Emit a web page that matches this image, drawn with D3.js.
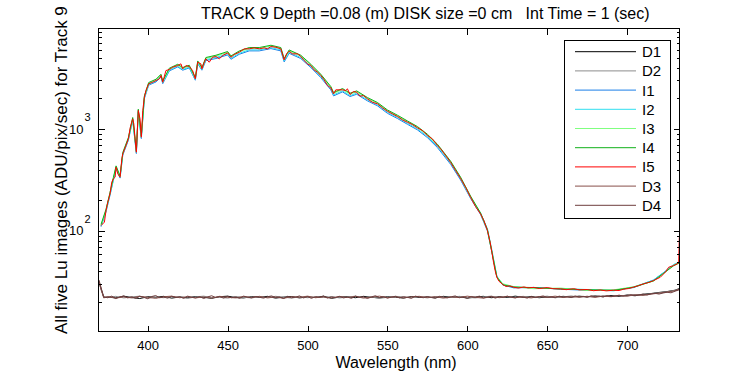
<!DOCTYPE html>
<html>
<head>
<meta charset="utf-8">
<script src="https://d3js.org/d3.v7.min.js"></script>
<style>
  body { margin: 0; background: #fff; }
  svg text { font-family: "Liberation Sans", Arial, sans-serif; fill: #000; }
  .axis path { display: none; }
  .axis line { stroke: #000; shape-rendering: crispEdges; }
  .trace { fill: none; stroke-width: 1; }
</style>
</head>
<body>
<svg class="chart"></svg>
<script>
// series names / colours, in legend (and drawing) order
var seriesNames = ["D1", "D2", "I1", "I2", "I3", "I4", "I5", "D3", "D4"];
var seriesColors = ["#000000", "#8c8c8c", "#1a7fe8", "#30dff0", "#80ff80", "#10b01a", "#ff0000", "#88504a", "#6e3e3e"];

var xTicks = [400, 450, 500, 550, 600, 650, 700];
var yMajorTicks = [100, 1000];

// I5 (fine wavelength grid)
var wlFine = [
  370.8, 372.9, 373.9, 375.0, 376.4, 377.5, 378.5, 379.6, 380.2, 381.3,
  382.7, 383.8, 384.4, 386.4, 387.9, 389.1, 390.6, 391.3, 392.1, 392.9,
  394.1, 395.2, 396.0, 396.9, 397.9, 398.9, 400.6, 403.1, 405.2, 407.3,
  408.3, 409.4, 411.4, 413.5, 415.6, 418.8, 420.8, 421.9, 423.9, 426.0,
  428.1, 429.8, 431.3, 433.3, 433.9, 435.4, 436.4, 438.5, 440.6, 442.7,
  444.8, 446.9, 450.0, 452.1, 454.1, 457.3, 460.4, 463.5, 466.6, 469.8,
  472.9, 475.0, 477.1, 480.2, 483.3, 485.4, 486.9, 488.5, 490.6, 493.8,
  495.8, 497.9, 500.0, 502.1, 504.1, 506.3, 508.3, 510.4, 512.5, 514.6,
  516.3, 517.7, 519.8, 521.9, 523.9, 525.0, 526.6, 528.8, 530.8, 532.9,
  535.0, 537.5, 540.6, 543.8, 546.9, 550.0, 553.1, 556.3, 559.4, 562.5,
  565.6, 568.8, 571.9, 575.0, 578.1, 581.3, 583.8, 586.4, 589.6, 592.7,
  595.8, 599.0, 602.1, 605.2, 608.3, 610.4, 612.6, 614.3, 615.4, 616.4,
  617.4, 618.5, 619.8, 622.2, 624.2, 626.5, 629.1, 632.0, 635.4, 638.0,
  641.6, 645.0, 650.0, 654.0, 658.3, 662.0, 666.6, 670.0, 675.0, 679.0,
  683.3, 687.0, 691.6, 695.0, 697.9, 701.0, 704.1, 707.0, 710.4, 713.5,
  716.6, 720.8, 723.9, 726.0, 729.1, 731.3, 732.3, 732.7
];
var lumI5 = [
  113, 122, 158, 191, 231, 301, 324, 337, 422, 363,
  337, 510, 571, 689, 801, 1042, 1259, 1125, 801, 592,
  1519, 1259, 831, 1519, 2051, 2387, 2778, 2878, 2992, 3109,
  3350, 2878, 3750, 3837, 4042, 4198, 4363, 3897, 4198, 4107,
  3750, 3109, 4524, 4363, 3897, 4524, 4887, 4524, 5066, 5147,
  4887, 5265, 5595, 5066, 5383, 5672, 6124, 6124, 6266, 6124,
  6266, 6124, 6450, 6350, 6124, 4775, 5470, 5800, 5470, 5470,
  5147, 4700, 4363, 4198, 3811, 3609, 3350, 3040, 2673, 2537,
  2215, 2425, 2425, 2425, 2387, 2480, 2181, 2334, 2297, 2099,
  2132, 1979, 1833, 1767, 1614, 1495, 1410, 1327, 1231, 1166,
  1107, 1027, 967, 864, 801, 689, 625, 550, 469, 391,
  327, 267, 213, 173, 147, 126, 101, 77.5, 61.8, 49.3,
  40.9, 35.1, 32.1, 29.8, 28.5, 28.9, 28.0, 27.5, 28.2, 27.6,
  27.9, 27.2, 27.8, 27.1, 27.0, 26.5, 27.1, 26.4, 26.6, 25.9,
  26.3, 25.8, 26.2, 26.0, 26.8, 27.2, 28.1, 29.0, 30.3, 31.2,
  32.6, 35.1, 39.3, 44.0, 45.7, 47.5, 48.9, 86.8
];

// I1..I4 (coarser grid, mostly hidden under I5)
var wlCoarse = [
  370.8, 373.9, 376.4, 378.5, 380.2, 382.7, 384.4, 387.9, 390.6, 392.9,
  394.1, 396.0, 397.9, 400.6, 405.2, 408.3, 409.4, 413.5, 418.8, 421.9,
  426.0, 429.8, 431.3, 433.9, 436.4, 442.7, 450.0, 452.1, 457.3, 463.5,
  469.8, 477.1, 483.3, 485.4, 488.5, 495.8, 502.1, 508.3, 514.6, 516.3,
  521.9, 526.6, 530.8, 537.5, 543.8, 550.0, 556.3, 562.5, 568.8, 575.0,
  581.3, 589.6, 595.8, 602.1, 608.3, 612.6, 615.4, 618.5, 622.2, 629.1,
  641.6, 658.3, 675.0, 691.6, 704.1, 716.6, 723.9, 729.1, 732.7
];
var lumI1 = [
  110, 154, 224, 314, 410, 330, 555, 778, 1222, 575,
  1475, 807, 1990, 2695, 2900, 3250, 2790, 3720, 4070, 3780,
  3980, 3015, 4390, 3780, 4700, 4920, 5340, 4840, 5420, 5850,
  5850, 6160, 5850, 4560, 5540, 4920, 4010, 3200, 2420, 2115,
  2315, 2085, 2195, 1890, 1690, 1428, 1268, 1114, 981, 825,
  658, 450, 316, 208, 145, 100, 62, 35.5, 29.5, 27.6,
  27.9, 26.8, 26.1, 26.2, 27.8, 33.0, 40.2, 46.5, 49
];
var lumI2 = [
  112, 157, 228, 320, 417, 334, 564, 790, 1240, 584,
  1500, 820, 2025, 2740, 2950, 3300, 2840, 3780, 4130, 3840,
  4045, 3060, 4450, 3840, 4800, 5040, 5470, 4950, 5540, 5990,
  5980, 6300, 5990, 4670, 5670, 5030, 4100, 3270, 2480, 2165,
  2370, 2130, 2245, 1935, 1728, 1462, 1298, 1140, 1005, 846,
  676, 462, 324, 212, 150, 105, 65, 36, 29.9, 28.3,
  27.3, 27.2, 26.6, 25.8, 28.2, 32.9, 40, 46.8, 49.5
];
var lumI3 = [
  114, 160, 234, 327, 426, 341, 577, 810, 1272, 598,
  1535, 840, 2072, 2806, 3022, 3384, 2907, 3876, 4240, 3936,
  4148, 3140, 4570, 3936, 4936, 5200, 5650, 5117, 5730, 6185,
  6185, 6515, 6185, 4823, 5858, 5198, 4240, 3384, 2562, 2237,
  2449, 2203, 2320, 1999, 1785, 1510, 1340, 1178, 1037, 873,
  696, 474, 330, 215, 148, 102, 62.5, 35.6, 30.3, 28.4,
  27.1, 27.5, 26.0, 26.4, 28.3, 32.2, 39.6, 46.0, 49
];
var lumI4 = [
  116, 163, 238, 334, 435, 347, 588, 825, 1297, 610,
  1565, 856, 2113, 2861, 3082, 3450, 2964, 3952, 4324, 4014,
  4230, 3202, 4660, 4014, 5034, 5301, 5763, 5218, 5842, 6308,
  6308, 6644, 6308, 4918, 5974, 5301, 4324, 3450, 2613, 2281,
  2498, 2246, 2366, 2038, 1820, 1540, 1367, 1201, 1058, 890,
  710, 483, 337, 219, 150, 103, 62, 35.3, 29.6, 28.1,
  27.8, 26.9, 26.5, 26.1, 28.0, 32.4, 39.5, 45.5, 48.5
];

// dark frames (D1..D3 on a 5 nm grid)
var wlDark = [
  369.5, 371, 372.5,
  375, 380, 385, 390, 395, 400, 405, 410, 415, 420,
  425, 430, 435, 440, 445, 450, 455, 460, 465, 470,
  475, 480, 485, 490, 495, 500, 505, 510, 515, 520,
  525, 530, 535, 540, 545, 550, 555, 560, 565, 570,
  575, 580, 585, 590, 595, 600, 605, 610, 615, 620,
  625, 630, 635, 640, 645, 650, 655, 660, 665, 670,
  675, 680, 685, 690, 695, 700, 705, 710, 715, 720,
  725, 730, 733
];
var darkD1 = [
  32.0, 26.5, 22.2,
  22.4, 22.0, 22.9, 22.2, 21.7, 22.6, 22.3, 22.8, 21.9, 22.5,
  22.1, 22.7, 22.3, 21.8, 22.6, 22.9, 22.2, 22.0, 22.6, 22.3,
  22.8, 21.9, 22.4, 22.7, 22.0, 22.5, 22.2, 22.9, 21.8, 22.4,
  22.6, 22.1, 22.8, 22.3, 22.0, 22.6, 22.4, 21.9, 22.7, 22.2,
  22.5, 22.0, 22.8, 22.3, 22.6, 21.9, 22.4, 22.8, 22.1, 22.6,
  22.2, 22.9, 22.3, 22.7, 22.1, 22.5, 22.3, 22.8, 22.4, 22.9,
  22.5, 23.0, 22.6, 23.2, 22.8, 23.5, 23.1, 23.9, 24.3, 24.9,
  25.4, 26.2, 27.3
];
var darkD2 = [
  31.0, 26.0, 22.6,
  22.2, 22.8, 22.0, 22.5, 22.9, 21.9, 22.4, 22.1, 22.7, 22.3,
  21.8, 22.5, 22.9, 22.2, 22.4, 21.9, 22.7, 22.3, 22.0, 22.6,
  22.2, 22.8, 22.4, 21.9, 22.6, 22.1, 22.5, 22.2, 22.7, 22.0,
  22.4, 22.9, 22.2, 22.5, 21.8, 22.3, 22.8, 22.5, 22.1, 22.6,
  22.0, 22.7, 22.4, 22.2, 22.8, 22.3, 22.0, 22.5, 22.9, 22.1,
  22.6, 22.3, 22.8, 22.2, 22.4, 22.9, 22.1, 22.5, 23.0, 22.4,
  22.8, 22.5, 23.1, 22.7, 23.3, 23.0, 23.7, 23.4, 24.2, 24.7,
  25.3, 26.1, 26.9
];
var darkD3 = [
  31.5, 26.0, 22.0,
  22.7, 21.9, 22.5, 22.0, 22.8, 22.3, 21.8, 22.6, 22.9, 22.1,
  22.6, 22.0, 22.5, 21.9, 22.8, 22.3, 22.0, 22.7, 22.2, 22.8,
  22.0, 22.5, 21.8, 22.6, 22.3, 22.9, 22.1, 22.5, 22.0, 22.7,
  22.2, 22.8, 21.9, 22.4, 22.9, 22.1, 22.6, 22.0, 22.5, 22.8,
  22.2, 22.6, 21.9, 22.5, 22.2, 22.9, 22.3, 21.9, 22.6, 22.2,
  22.8, 22.1, 22.5, 22.0, 22.7, 22.3, 22.9, 22.2, 22.6, 22.4,
  22.8, 22.3, 22.9, 22.6, 23.2, 22.9, 23.6, 23.3, 24.0, 24.5,
  25.1, 25.9, 26.8
];

// D4 on top, on a 2.5 nm grid
var wlDarkFine = [
  369.5, 371, 372.5,
  375, 377.5, 380, 382.5, 385, 387.5, 390, 392.5, 395, 397.5,
  400, 402.5, 405, 407.5, 410, 412.5, 415, 417.5, 420,
  422.5, 425, 427.5, 430, 432.5, 435, 437.5, 440, 442.5, 445,
  447.5, 450, 452.5, 455, 457.5, 460, 462.5, 465, 467.5, 470,
  472.5, 475, 477.5, 480, 482.5, 485, 487.5, 490, 492.5, 495,
  497.5, 500, 502.5, 505, 507.5, 510, 512.5, 515, 517.5, 520,
  522.5, 525, 527.5, 530, 532.5, 535, 537.5, 540, 542.5, 545,
  547.5, 550, 552.5, 555, 557.5, 560, 562.5, 565, 567.5, 570,
  572.5, 575, 577.5, 580, 582.5, 585, 587.5, 590, 592.5, 595,
  597.5, 600, 602.5, 605, 607.5, 610, 612.5, 615, 617.5, 620,
  622.5, 625, 627.5, 630, 632.5, 635, 637.5, 640, 642.5, 645,
  647.5, 650, 652.5, 655, 657.5, 660, 662.5, 665, 667.5, 670,
  672.5, 675, 677.5, 680, 682.5, 685, 687.5, 690, 692.5, 695,
  697.5, 700, 702.5, 705, 707.5, 710, 712.5, 715, 717.5, 720,
  722.5, 725, 727.5, 730, 732.5, 733
];
var darkD4 = [
  33.0, 27.0, 22.5,
  22.1, 22.9, 21.7, 22.5, 23.0, 22.0, 22.6, 21.8, 22.8, 22.3,
  21.6, 22.7, 23.2, 22.1, 22.4, 21.9, 22.8, 22.2, 22.6,
  21.8, 22.9, 22.3, 22.0, 22.7, 21.7, 22.5, 23.1, 22.2, 22.6,
  21.9, 22.8, 22.1, 22.5, 21.8, 22.9, 22.4, 22.0, 22.7, 22.3,
  21.9, 22.6, 23.0, 22.2, 22.5, 21.7, 22.8, 22.1, 22.4, 23.0,
  22.0, 22.6, 21.8, 22.7, 22.3, 22.9, 21.9, 22.5, 22.2, 22.8,
  22.0, 22.4, 21.8, 22.9, 22.3, 22.6, 21.7, 22.5, 23.1, 22.2,
  22.7, 21.9, 22.4, 22.8, 22.0, 22.6, 22.3, 21.8, 22.9, 22.4,
  22.1, 22.7, 22.2, 21.9, 22.8, 22.4, 22.0, 22.6, 23.0, 22.1,
  22.5, 21.8, 22.7, 22.3, 22.9, 22.0, 22.4, 22.8, 21.9, 22.6,
  22.2, 22.9, 22.3, 22.0, 22.7, 22.4, 21.9, 22.8, 22.2, 22.6,
  23.0, 22.3, 22.5, 22.1, 22.9, 22.4, 22.7, 22.2, 23.0, 22.5,
  22.8, 22.3, 23.1, 22.6, 22.9, 22.5, 23.2, 22.7, 23.0, 23.4,
  22.9, 23.3, 23.7, 23.2, 23.6, 24.0, 23.5, 24.1, 24.4, 24.0,
  24.6, 25.0, 24.7, 25.6, 26.4, 27.3
];

function show() {
    'use strict';

    var margin = {top: 28.5, left: 98.5},
        width = 581,
        height = 303;

    var svg = d3.select(".chart")
        .attr("width", 750)
        .attr("height", 375);

    var chart = svg.append("g")
        .attr("transform", "translate(" + margin.left + "," + margin.top + ")");

    var x = d3.scaleLinear().domain([369.2, 732.8]).range([0, width]);
    var y = d3.scaleLog().domain([10.3, 9700]).range([height, 0]);

    // series table built from the arrays above
    var series = [
        {wl: wlDark, v: darkD1}, {wl: wlDark, v: darkD2},
        {wl: wlCoarse, v: lumI1}, {wl: wlCoarse, v: lumI2}, {wl: wlCoarse, v: lumI3},
        {wl: wlCoarse, v: lumI4}, {wl: wlFine, v: lumI5},
        {wl: wlDark, v: darkD3}, {wl: wlDarkFine, v: darkD4}
    ];

    chart.append("clipPath").attr("id", "plotclip")
        .append("rect").attr("width", width).attr("height", height);

    var line = d3.line()
        .x(function(d) { return x(d[0]); })
        .y(function(d) { return y(d[1]); });

    chart.append("g").attr("clip-path", "url(#plotclip)")
        .selectAll(".trace")
        .data(series).enter().append("path")
            .attr("class", "trace")
            .attr("stroke", function(d, i) { return seriesColors[i]; })
            .attr("d", function(s) {
                return line(s.wl.map(function(w, k) { return [w, s.v[k]]; }));
            });

    // axes - MATLAB style ticks pointing inwards on all four sides
    var xb = chart.append("g").attr("class", "axis")
        .attr("transform", "translate(0," + height + ")")
        .call(d3.axisBottom(x).tickValues(xTicks).tickSize(-6).tickPadding(9));
    xb.selectAll("text").style("font-size", "13px");

    chart.append("g").attr("class", "axis")
        .call(d3.axisTop(x).tickValues(xTicks).tickSize(-6).tickFormat(""));

    var minor = y.ticks().filter(function(t) { return yMajorTicks.indexOf(t) < 0; });

    chart.append("g").attr("class", "axis")
        .call(d3.axisLeft(y).tickValues(minor).tickSize(-3).tickFormat(""));
    chart.append("g").attr("class", "axis")
        .attr("transform", "translate(" + width + ",0)")
        .call(d3.axisRight(y).tickValues(minor).tickSize(-3).tickFormat(""));
    chart.append("g").attr("class", "axis")
        .call(d3.axisLeft(y).tickValues(yMajorTicks).tickSize(-6).tickFormat(""));
    chart.append("g").attr("class", "axis")
        .attr("transform", "translate(" + width + ",0)")
        .call(d3.axisRight(y).tickValues(yMajorTicks).tickSize(-6).tickFormat(""));

    // 10^n labels
    var ylab = chart.selectAll(".ylab").data(yMajorTicks).enter().append("g")
        .attr("class", "ylab")
        .attr("transform", function(d) { return "translate(0," + y(d) + ")"; });
    ylab.append("text")
        .attr("x", -15).attr("dy", "0.35em")
        .attr("text-anchor", "end")
        .style("font-size", "13px")
        .text("10");
    ylab.append("text")
        .attr("x", -14).attr("y", -8)
        .style("font-size", "11px")
        .text(function(d) { return Math.round(Math.log10(d)); });

    // frame
    chart.append("rect")
        .attr("width", width).attr("height", height)
        .attr("fill", "none").attr("stroke", "#000")
        .attr("shape-rendering", "crispEdges");

    // legend
    var lg = chart.append("g").attr("transform", "translate(" + (564 - margin.left) + "," + (40 - margin.top) + ")");
    lg.append("rect")
        .attr("width", 106).attr("height", 178)
        .attr("fill", "#fff").attr("stroke", "#000")
        .attr("shape-rendering", "crispEdges");
    var row = lg.selectAll(".row").data(seriesNames).enter().append("g")
        .attr("class", "row")
        .attr("transform", function(d, i) { return "translate(0," + (11.7 + i * 19.2) + ")"; });
    row.append("line")
        .attr("x1", 11).attr("x2", 72)
        .attr("stroke", function(d, i) { return seriesColors[i]; });
    row.append("text")
        .attr("x", 78).attr("dy", "0.36em")
        .style("font-size", "15px")
        .text(function(d) { return d; });

    // titles
    svg.append("text")
        .attr("x", 201).attr("y", 19)
        .style("font-size", "16px").style("white-space", "pre")
        .text("TRACK 9 Depth =0.08 (m) DISK size =0 cm   Int Time = 1 (sec)");

    svg.append("text")
        .attr("x", 396).attr("y", 368)
        .attr("text-anchor", "middle")
        .style("font-size", "16px")
        .text("Wavelength (nm)");

    svg.append("text")
        .attr("transform", "translate(67,334) rotate(-90)")
        .style("font-size", "17px")
        .text("All five Lu images (ADU/pix/sec) for Track 9");
}

show();
</script>
</body>
</html>
